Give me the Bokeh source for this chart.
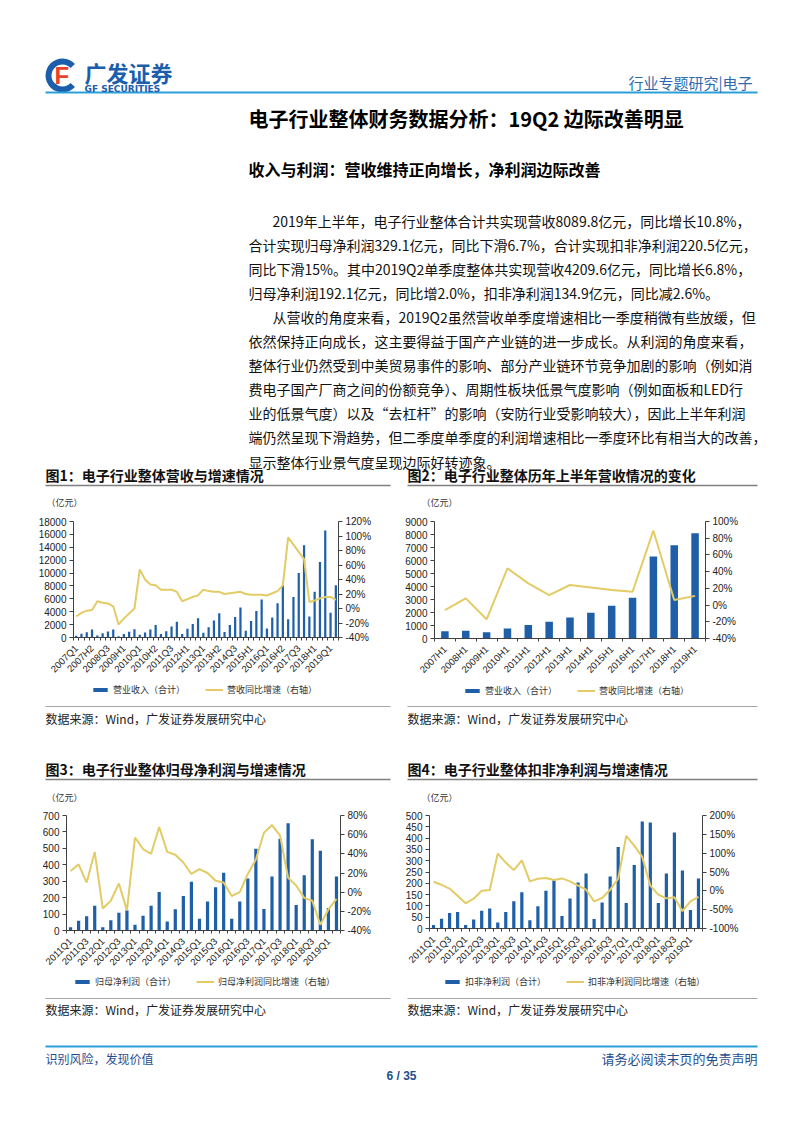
import math
from bokeh.plotting import figure
from bokeh.models import (Range1d, LinearAxis, FixedTicker, PrintfTickFormatter,
                          Label, Legend, LegendItem)
from bokeh.layouts import column, row
from bokeh.embed import file_html
from bokeh.resources import INLINE

# ---------------- data ----------------
rev_cats = ["2007Q1", "2007H1", "2007Q3", "2007H2", "2008Q1", "2008H1", "2008Q3", "2008H2",
            "2009Q1", "2009H1", "2009Q3", "2009H2", "2010Q1", "2010H1", "2010Q3", "2010H2",
            "2011Q1", "2011H1", "2011Q3", "2011H2", "2012Q1", "2012H1", "2012Q3", "2012H2",
            "2013Q1", "2013H1", "2013Q3", "2013H2", "2014Q1", "2014H1", "2014Q3", "2014H2",
            "2015Q1", "2015H1", "2015Q3", "2015H2", "2016Q1", "2016H1", "2016Q3", "2016H2",
            "2017Q1", "2017H1", "2017Q3", "2017H2", "2018Q1", "2018H1", "2018Q3", "2018H2",
            "2019Q1", "2019H1"]
rev_values = [260, 570, 830, 1240, 300, 670, 930, 1240,
              200, 560, 880, 1290, 410, 780, 1240, 1950,
              560, 980, 1700, 2450, 560, 1370, 2100, 3000,
              720, 1600, 2650, 3750, 850, 1950, 3200, 4650,
              1050, 2550, 4100, 5900, 1400, 3100, 5300, 8100,
              2850, 6300, 10000, 14300, 3250, 7100, 11700, 16600,
              3850, 8100]
rev_growth = [-11, -6, -3, -2, 10, 8, 7, 3,
              -22, -14, -7, 0, 54, 40, 33, 32,
              26, 26, 26, 23, 10, 13, 16, 18,
              26, 24, 23, 23, 20, 21, 22, 23,
              20, 19, 19, 19, 18, 21, 24, 32,
              98, 88, 78, 68, 9, 11, 14, 16,
              16, 12]

h1_cats = ["2007H1", "2008H1", "2009H1", "2010H1", "2011H1", "2012H1", "2013H1",
           "2014H1", "2015H1", "2016H1", "2017H1", "2018H1", "2019H1"]
h1_values = [560, 590, 490, 770, 1030, 1290, 1620, 1980, 2520, 3140, 6300, 7170, 8090]
h1_growth = [-6, 8, -17, 44, 26, 12, 24, 21, 18, 16, 89, 6, 11]

q_cats = ["2011Q1", "2011Q2", "2011Q3", "2011Q4", "2012Q1", "2012Q2", "2012Q3", "2012Q4",
          "2013Q1", "2013Q2", "2013Q3", "2013Q4", "2014Q1", "2014Q2", "2014Q3", "2014Q4",
          "2015Q1", "2015Q2", "2015Q3", "2015Q4", "2016Q1", "2016Q2", "2016Q3", "2016Q4",
          "2017Q1", "2017Q2", "2017Q3", "2017Q4", "2018Q1", "2018Q2", "2018Q3", "2018Q4",
          "2019Q1", "2019Q2"]
np_values = [20, 59, 86, 151, 20, 63, 108, 124,
             35, 90, 151, 235, 55, 129, 210, 296,
             71, 176, 263, 351, 71, 176, 316, 498,
             131, 329, 559, 653, 155, 337, 555, 486,
             137, 329]
np_growth = [22, 29, 10, 42, -17, -9, 9, -19,
             57, 45, 40, 68, 42, 39, 31, 19,
             24, 20, 12, 10, -4, 0, 19, 34,
             62, 70, 59, 15, 7, -6, -9, -34,
             -18, -7]
kf_values = [15, 43, 69, 73, 15, 40, 78, 88,
             27, 73, 121, 160, 36, 99, 167, 216,
             55, 133, 204, 243, 42, 115, 230, 361,
             113, 281, 473, 469, 113, 243, 425, 257,
             82, 221]
kf_growth = [24, 16, 6, -13, -33, -21, 0, 2,
             99, 75, 55, 81, 25, 32, 34, 29,
             33, 25, 14, 3, -28, -19, 3, 32,
             146, 120, 90, 14, -10, -20, -17, -54,
             -28, -16]

# ---------------- styles ----------------
CJK = "Noto Sans CJK SC"
LAT = "Liberation Sans"
BAR = "#1F5FA8"
GOLD = "#E3CB66"
AXC = "#404040"
HBLUE = "#2B9FD9"
DBLUE = "#1F4E8F"


def text_fig(width, height, y_top):
    p = figure(width=width, height=height, x_range=Range1d(0, width),
               y_range=Range1d(y_top + height, y_top), toolbar_location=None,
               output_backend="svg", x_axis_location=None, y_axis_location=None,
               min_border=0)
    p.grid.visible = False
    p.outline_line_color = None
    return p


def txt(p, x, y, s, size, color="#111111", bold=False, align="left", font=CJK):
    p.add_layout(Label(x=x, y=y, text=s, text_font=font, text_font_size=f"{size}px",
                       text_color=color, text_font_style="bold" if bold else "normal",
                       text_align=align, text_baseline="middle"))


def hline(p, x0, x1, y, color, w):
    p.segment(x0=[x0], y0=[y], x1=[x1], y1=[y], line_color=color, line_width=w)


def legend_in(p, loc, bar_label, line_label, anchor):
    # zero-size key renderers styled like the chart's bars and line (they draw nothing)
    ax, ay = anchor
    vb = p.vbar(x=[ax], top=[ay], bottom=[ay], width=0, fill_color=BAR, line_color=None)
    ln = p.line(x=[ax], y=[ay], line_color=GOLD, line_width=2)
    leg = Legend(items=[LegendItem(label=bar_label, renderers=[vb], index=0),
                        LegendItem(label=line_label, renderers=[ln])],
                 orientation="horizontal", location=loc,
                 border_line_color=None, background_fill_alpha=0,
                 label_text_font=CJK, label_text_font_size="9px", label_text_color="#333333",
                 glyph_width=18, glyph_height=5, label_height=10, spacing=20,
                 padding=2, margin=0, label_standoff=4)
    p.add_layout(leg)


def chart(fw, fh, cats, bars, growth, tick_step, ymax, ystep, rmin, rmax, rstep,
          left, right, top, bottom, bar_width):
    n = len(cats)
    xs = list(range(n))
    p = figure(frame_width=fw, frame_height=fh, x_range=Range1d(-0.5, n - 0.5),
               y_range=Range1d(0, ymax), toolbar_location=None, output_backend="svg",
               min_border_left=left, min_border_right=right, min_border_top=top,
               min_border_bottom=bottom)
    p.extra_y_ranges = {"r": Range1d(rmin, rmax)}
    p.grid.visible = False
    p.outline_line_color = None
    p.vbar(x=xs, top=bars, width=bar_width, fill_color=BAR, line_color=None)
    p.line(x=xs, y=growth, y_range_name="r", line_color=GOLD, line_width=2)

    ticks = list(range(0, n, tick_step))
    xa = p.xaxis[0]
    xa.ticker = FixedTicker(ticks=ticks, minor_ticks=[i - 0.5 for i in range(n + 1)])
    xa.major_label_overrides = {i: cats[i] for i in ticks}
    xa.major_label_orientation = math.pi / 4
    xa.major_tick_line_color = None
    xa.minor_tick_in = 0
    xa.minor_tick_out = 3
    xa.minor_tick_line_color = AXC
    xa.axis_line_color = AXC
    xa.major_label_text_font = LAT
    xa.major_label_text_font_size = "9.5px"
    xa.major_label_text_color = "#222222"
    xa.major_label_standoff = 3

    ya = p.yaxis[0]
    ya.ticker = FixedTicker(ticks=list(range(0, ymax + 1, ystep)))
    ya.major_tick_in = 0
    ya.major_tick_out = 4
    ya.minor_tick_line_color = None
    ya.axis_line_color = AXC
    ya.major_tick_line_color = AXC
    ya.major_label_text_font = LAT
    ya.major_label_text_font_size = "10px"
    ya.major_label_text_color = "#222222"
    ya.major_label_standoff = 3

    ra = LinearAxis(y_range_name="r", ticker=FixedTicker(ticks=list(range(rmin, rmax + 1, rstep))),
                    formatter=PrintfTickFormatter(format="%d%%"))
    ra.major_tick_in = 0
    ra.major_tick_out = 4
    ra.minor_tick_line_color = None
    ra.axis_line_color = AXC
    ra.major_tick_line_color = AXC
    ra.major_label_text_font = LAT
    ra.major_label_text_font_size = "10px"
    ra.major_label_text_color = "#222222"
    ra.major_label_standoff = 3
    p.add_layout(ra, "right")
    return p


# ---------------- band A: header & text (page y 0-508) ----------------
A = text_fig(786, 508, 0)
A.annular_wedge(x=[62], y=[75], inner_radius=11, outer_radius=17, start_angle=0.75,
                end_angle=2 * math.pi - 0.75, fill_color="#1B5EAB", line_color=None)
txt(A, 54, 75, "F", 24, color="#E8412C", bold=True, font=LAT)
txt(A, 84, 71, "广发证券", 22, color="#1B5EAB", bold=True)
txt(A, 84, 88, "GF SECURITIES", 9, color="#1B5EAB", bold=True, font="DejaVu Sans")
txt(A, 752, 82, "行业专题研究|电子", 15, color="#2F6AAE", align="right")
hline(A, 45, 757, 92, HBLUE, 2)
txt(A, 248, 118, "电子行业整体财务数据分析：19Q2 边际改善明显", 20, color="#000000", bold=True)
txt(A, 248, 168, "收入与利润：营收维持正向增长，净利润边际改善", 16, color="#000000", bold=True)

para = [
    (272, "2019年上半年，电子行业整体合计共实现营收8089.8亿元，同比增长10.8%，"),
    (248, "合计实现归母净利润329.1亿元，同比下滑6.7%，合计实现扣非净利润220.5亿元，"),
    (248, "同比下滑15%。其中2019Q2单季度整体共实现营收4209.6亿元，同比增长6.8%，"),
    (248, "归母净利润192.1亿元，同比增2.0%，扣非净利润134.9亿元，同比减2.6%。"),
    (272, "从营收的角度来看，2019Q2虽然营收单季度增速相比一季度稍微有些放缓，但"),
    (248, "依然保持正向成长，这主要得益于国产产业链的进一步成长。从利润的角度来看，"),
    (248, "整体行业仍然受到中美贸易事件的影响、部分产业链环节竞争加剧的影响（例如消"),
    (248, "费电子国产厂商之间的份额竞争）、周期性板块低景气度影响（例如面板和LED行"),
    (248, "业的低景气度）以及“去杠杆”的影响（安防行业受影响较大），因此上半年利润"),
    (248, "端仍然呈现下滑趋势，但二季度单季度的利润增速相比一季度环比有相当大的改善，"),
    (248, "显示整体行业景气度呈现边际好转迹象。"),
]
for i, (x, s) in enumerate(para):
    txt(A, x, 220 + 24.1 * i, s, 14, color="#111111")

txt(A, 45, 474, "图1：电子行业整体营收与增速情况", 14, color="#111111", bold=True)
txt(A, 407, 474, "图2：电子行业整体历年上半年营收情况的变化", 14, color="#111111", bold=True)
hline(A, 45, 390, 485, "#7F7F7F", 1.5)
hline(A, 407, 757, 485, "#7F7F7F", 1.5)
txt(A, 46, 502, "（亿元）", 9, color="#333333")
txt(A, 421, 502, "（亿元）", 9, color="#333333")

# ---------------- band B: charts 1 & 2 (508-680) ----------------
c1 = chart(265, 116, rev_cats, rev_values, rev_growth, 3, 18000, 2000, -40, 120, 20,
           73, 54, 13, 43, 0.42)
c2 = chart(271, 117, h1_cats, h1_values, h1_growth, 1, 9000, 1000, -40, 100, 20,
           42, 81, 12, 43, 0.36)

# ---------------- band C (680-803) ----------------
C = text_fig(786, 123, 680)
legend_in(C, (91, 108), "营业收入（合计）", "营收同比增速（右轴）", (100, 688))
legend_in(C, (463, 107), "营业收入（合计）", "营收同比增速（右轴）", (470, 689))
hline(C, 45, 390, 705, "#A6A6A6", 1)
hline(C, 407, 757, 705, "#A6A6A6", 1)
txt(C, 45, 717, "数据来源：Wind，广发证券发展研究中心", 12, color="#222222")
txt(C, 407, 717, "数据来源：Wind，广发证券发展研究中心", 12, color="#222222")
txt(C, 45, 767, "图3：电子行业整体归母净利润与增速情况", 14, color="#111111", bold=True)
txt(C, 407, 767, "图4：电子行业整体扣非净利润与增速情况", 14, color="#111111", bold=True)
hline(C, 45, 390, 778, "#7F7F7F", 1.5)
hline(C, 407, 757, 778, "#7F7F7F", 1.5)
txt(C, 46, 796, "（亿元）", 9, color="#333333")
txt(C, 421, 796, "（亿元）", 9, color="#333333")

# ---------------- band D: charts 3 & 4 (803-972) ----------------
c3 = chart(274, 115, q_cats, np_values, np_growth, 2, 700, 100, -40, 80, 20,
           66, 52, 10, 44, 0.4)
c4 = chart(273, 113, q_cats, kf_values, kf_growth, 2, 500, 50, -100, 200, 50,
           37, 84, 11, 45, 0.4)

# ---------------- band E: footer (972-1117) ----------------
E = text_fig(786, 145, 972)
legend_in(E, (73, 130), "归母净利润（合计）", "归母净利润同比增速（右轴）", (80, 980))
legend_in(E, (443, 130), "扣非净利润（合计）", "扣非净利润同比增速（右轴）", (450, 980))
hline(E, 45, 390, 997, "#A6A6A6", 1)
hline(E, 407, 757, 997, "#A6A6A6", 1)
txt(E, 45, 1008, "数据来源：Wind，广发证券发展研究中心", 12, color="#222222")
txt(E, 407, 1008, "数据来源：Wind，广发证券发展研究中心", 12, color="#222222")
hline(E, 45, 757, 1045, HBLUE, 2)
txt(E, 45, 1057, "识别风险，发现价值", 12, color=DBLUE)
txt(E, 757, 1057, "请务必阅读末页的免责声明", 13, color=DBLUE, align="right")
txt(E, 401, 1074, "6 / 35", 12, color=DBLUE, bold=True, align="center", font=LAT)

layout = column(A, row(c1, c2), C, row(c3, c4), E)
open("out.html", "w").write(file_html(layout, INLINE))
